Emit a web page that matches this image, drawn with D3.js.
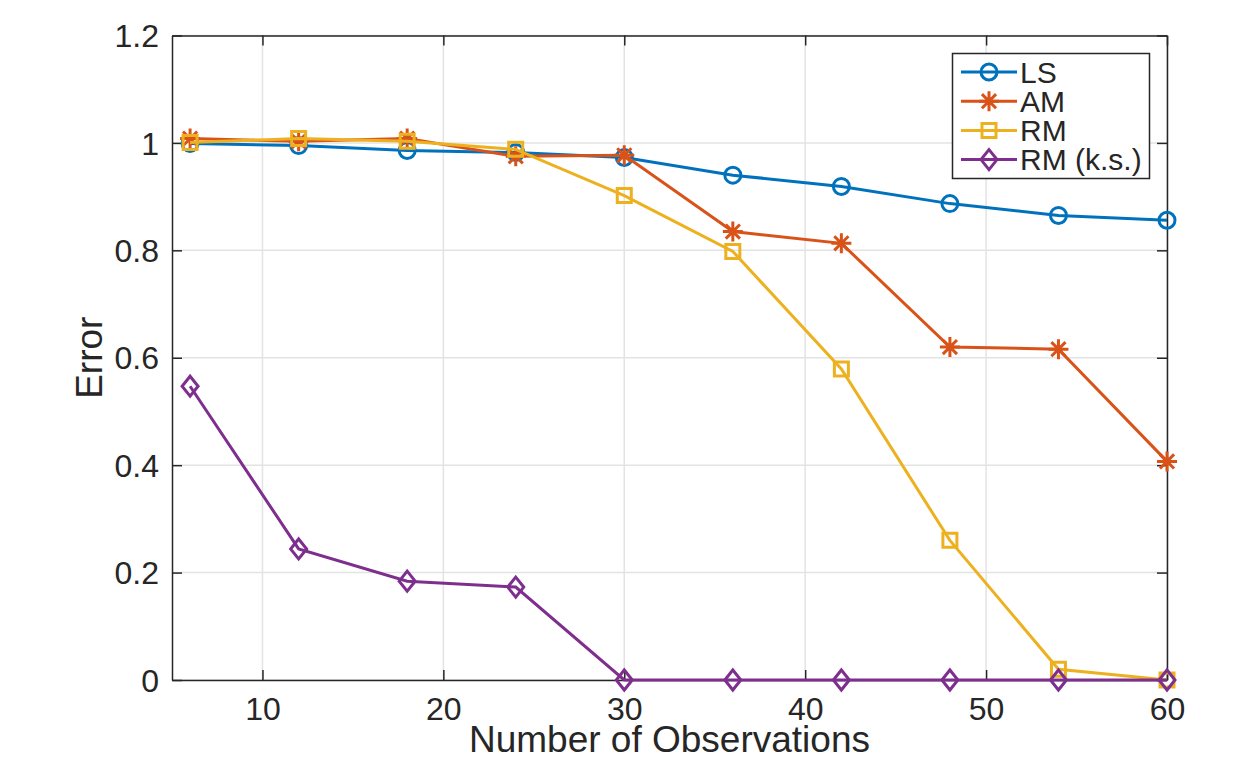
<!DOCTYPE html>
<html>
<head>
<meta charset="utf-8">
<script src="https://cdn.jsdelivr.net/npm/d3@7"></script>
<style>
  body { margin: 0; background: #fff; }
  text { font-family: "Liberation Sans", Arial, sans-serif; fill: #262626; }
</style>
</head>
<body>
<div id="vis"></div>
<script>
// observations on the x axis
const observations = [6, 12, 18, 24, 30, 36, 42, 48, 54, 60]

// error values
const lsError   = [0.999, 0.995, 0.986, 0.982, 0.973, 0.940, 0.919, 0.887, 0.865, 0.856]
const amError   = [1.008, 1.003, 1.008, 0.975, 0.977, 0.835, 0.813, 0.620, 0.616, 0.407]
const rmError   = [1.001, 1.008, 1.003, 0.988, 0.902, 0.798, 0.579, 0.260, 0.020, 0.000]
const rmksError = [0.547, 0.244, 0.184, 0.173, 0.000, 0.000, 0.000, 0.000, 0.000, 0.000]

const seriesNames = ['LS', 'AM', 'RM', 'RM (k.s.)']
const seriesColors = ['#0072BD', '#D95319', '#EDB120', '#7E2F8E']
const seriesMarkers = ['circle', 'star', 'square', 'diamond']

const xTicks = [10, 20, 30, 40, 50, 60]
const yTicks = [0, 0.2, 0.4, 0.6, 0.8, 1, 1.2]

const W = 1236, H = 761
const margin = {left: 172, top: 35.5, right: W - 1167, bottom: H - 680}

const series = [lsError, amError, rmError, rmksError].map((vals, i) => ({
    name: seriesNames[i],
    color: seriesColors[i],
    marker: seriesMarkers[i],
    points: vals.map((v, j) => ({x: observations[j], y: v}))
}))

const x = d3.scaleLinear([5, 60], [margin.left, W - margin.right])
const y = d3.scaleLinear([0, 1.2], [H - margin.bottom, margin.top])

const svg = d3.select('#vis').append('svg')
    .attr('width', W)
    .attr('height', H)

// grid
svg.append('g').selectAll('line')
    .data(xTicks).enter().append('line')
    .attr('x1', d => x(d)).attr('x2', d => x(d))
    .attr('y1', y(0)).attr('y2', y(1.2))
    .attr('stroke', '#e3e3e3').attr('stroke-width', 1.5)
svg.append('g').selectAll('line')
    .data(yTicks).enter().append('line')
    .attr('y1', d => y(d)).attr('y2', d => y(d))
    .attr('x1', x(5)).attr('x2', x(60))
    .attr('stroke', '#e3e3e3').attr('stroke-width', 1.5)

// axes (ticks inward, box on)
const tickLen = 10
const axisColor = '#262626'
const tickFont = 32
let xAxis = d3.axisBottom(x).tickValues(xTicks).tickSizeInner(-tickLen).tickSizeOuter(0).tickPadding(17)
let xAxisTop = d3.axisTop(x).tickValues(xTicks).tickSizeInner(-tickLen).tickSizeOuter(0).tickFormat('')
let yAxis = d3.axisLeft(y).tickValues(yTicks).tickSizeInner(-tickLen).tickSizeOuter(0).tickPadding(13)
    .tickFormat(d3.format('~g'))
let yAxisRight = d3.axisRight(y).tickValues(yTicks).tickSizeInner(-tickLen).tickSizeOuter(0).tickFormat('')

function styleAxis(g){
    g.select('.domain').attr('stroke', axisColor).attr('stroke-width', 1.5)
    g.selectAll('.tick line').attr('stroke', axisColor).attr('stroke-width', 1.5)
    g.selectAll('.tick text')
        .attr('font-size', tickFont)
        .attr('font-family', '"Liberation Sans", Arial, sans-serif')
        .attr('fill', '#262626')
}

svg.append('g')
    .attr('transform', `translate(0,${y(0)})`)
    .call(xAxis).call(styleAxis)
svg.append('g')
    .attr('transform', `translate(0,${y(1.2)})`)
    .call(xAxisTop).call(styleAxis)
svg.append('g')
    .attr('transform', `translate(${x(5)},0)`)
    .call(yAxis).call(styleAxis)
    .call(g => g.selectAll('.tick text').attr('dy', '0.35em'))
svg.append('g')
    .attr('transform', `translate(${x(60)},0)`)
    .call(yAxisRight).call(styleAxis)

// axis labels
svg.append('text')
    .text('Number of Observations')
    .attr('x', (x(5) + x(60)) / 2)
    .attr('y', 752)
    .attr('text-anchor', 'middle')
    .attr('font-size', 37)
svg.append('text')
    .text('Error')
    .attr('transform', `translate(102,${(y(0) + y(1.2)) / 2}) rotate(-90)`)
    .attr('text-anchor', 'middle')
    .attr('font-size', 37)

// marker shapes
function markerPath(type){
    if (type === 'circle') {
        const r = 8
        return `M${-r},0A${r},${r} 0 1,0 ${r},0A${r},${r} 0 1,0 ${-r},0Z`
    }
    if (type === 'square') {
        const s = 7
        return `M${-s},${-s}H${s}V${s}H${-s}Z`
    }
    if (type === 'diamond') {
        const w = 8, h = 10
        return `M0,${-h}L${w},0L0,${h}L${-w},0Z`
    }
    // asterisk
    const a = 10, b = a * 0.7071
    return `M${-a},0H${a}M0,${-a}V${a}M${-b},${-b}L${b},${b}M${-b},${b}L${b},${-b}`
}

const line = d3.line().x(d => x(d.x)).y(d => y(d.y))

series.forEach(s => {
    let g = svg.append('g').attr('class', 'series')
    g.append('path')
        .datum(s.points)
        .attr('d', line)
        .attr('fill', 'none')
        .attr('stroke', s.color)
        .attr('stroke-width', 3)
    g.selectAll('.marker')
        .data(s.points).enter()
        .append('path')
        .attr('class', 'marker')
        .attr('transform', d => `translate(${x(d.x)},${y(d.y)})`)
        .attr('d', markerPath(s.marker))
        .attr('fill', 'none')
        .attr('stroke', s.color)
        .attr('stroke-width', 3)
})

// legend
let legend = svg.append('g').attr('class', 'legend')
legend.append('rect')
    .attr('x', 952.5).attr('y', 53.5)
    .attr('width', 197).attr('height', 125)
    .attr('fill', '#fff')
    .attr('stroke', axisColor).attr('stroke-width', 1.5)

series.forEach((s, i) => {
    let ly = 72 + i * 29.2
    legend.append('line')
        .attr('x1', 961).attr('x2', 1017)
        .attr('y1', ly).attr('y2', ly)
        .attr('stroke', s.color).attr('stroke-width', 3)
    legend.append('path')
        .attr('transform', `translate(989,${ly})`)
        .attr('d', markerPath(s.marker))
        .attr('fill', 'none')
        .attr('stroke', s.color).attr('stroke-width', 3)
    legend.append('text')
        .text(s.name)
        .attr('x', 1020).attr('y', ly)
        .attr('dy', '0.35em')
        .attr('font-size', 30)
        .attr('fill', '#000')
})
</script>
</body>
</html>
